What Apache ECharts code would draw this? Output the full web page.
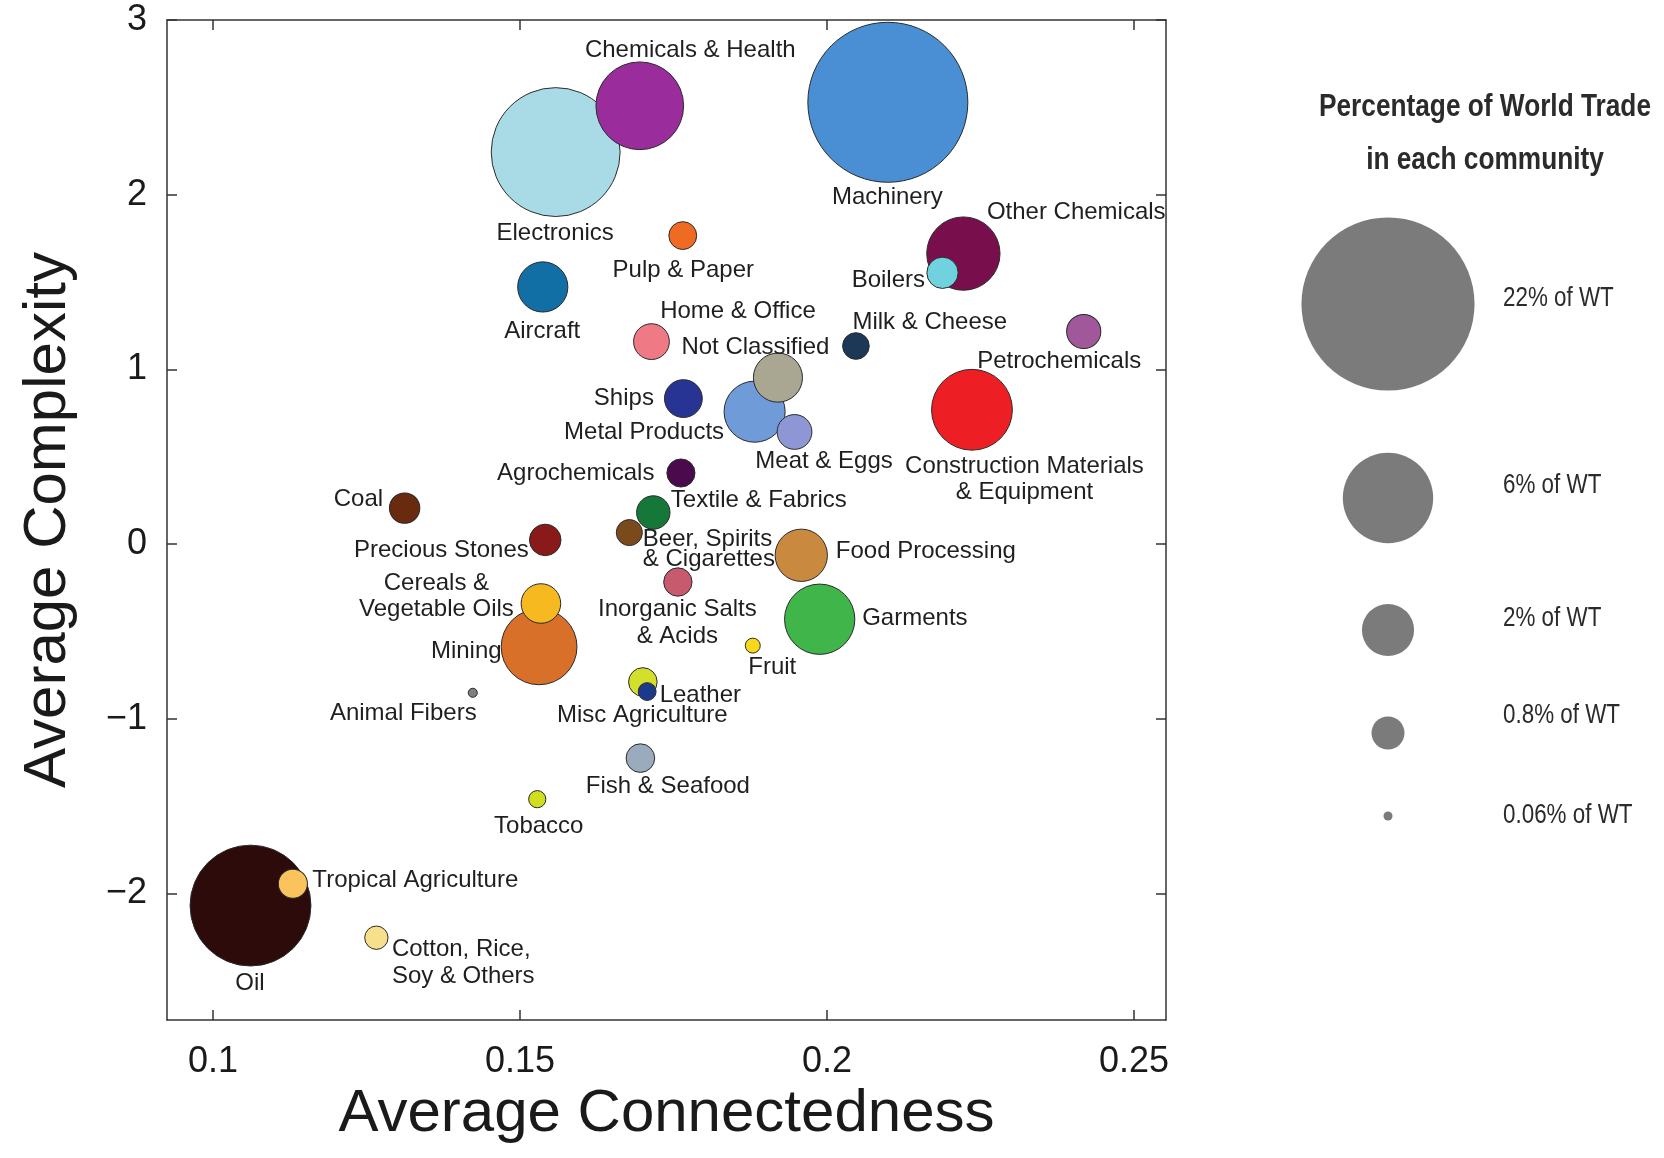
<!DOCTYPE html>
<html>
<head>
<meta charset="utf-8">
<script src="https://cdn.jsdelivr.net/npm/echarts@6/dist/echarts.min.js"></script>
<style>
html,body{margin:0;padding:0;background:#fff;}
#chart{width:1664px;height:1158px;}
</style>
</head>
<body>
<div id="chart"></div>
<script>
// ---------------- DATA ----------------
const communities = [
  'Machinery','Electronics','Chemicals & Health','Pulp & Paper','Aircraft',
  'Other Chemicals','Boilers','Milk & Cheese','Petrochemicals','Home & Office',
  'Metal Products','Not Classified','Meat & Eggs','Ships','Construction Materials & Equipment',
  'Agrochemicals','Textile & Fabrics','Coal','Precious Stones','Beer, Spirits & Cigarettes',
  'Food Processing','Inorganic Salts & Acids','Mining','Cereals & Vegetable Oils','Garments',
  'Fruit','Misc Agriculture','Leather','Animal Fibers','Fish & Seafood',
  'Tobacco','Oil','Tropical Agriculture','Cotton, Rice, Soy & Others'
];
const avgConnectedness = [
  0.2099,0.1558,0.1695,0.1765,0.1537,
  0.2222,0.2188,0.2047,0.2418,0.1714,
  0.1882,0.1920,0.1947,0.1766,0.2236,
  0.1762,0.1717,0.1312,0.1541,0.1678,
  0.1958,0.1757,0.1531,0.1534,0.1988,
  0.1879,0.1700,0.1707,0.1423,0.1696,
  0.1528,0.1061,0.1130,0.1266
];
const avgComplexity = [
  2.529,2.244,2.509,1.766,1.472,
  1.663,1.553,1.134,1.217,1.159,
  0.758,0.953,0.642,0.833,0.769,
  0.407,0.181,0.206,0.024,0.066,
  -0.064,-0.217,-0.588,-0.340,-0.430,
  -0.581,-0.789,-0.844,-0.851,-1.225,
  -1.460,-2.069,-1.944,-2.253
];
// percentage of world trade in each community
const tradeShare = [
  18.8,12.2,5.65,0.57,1.85,
  3.95,0.72,0.52,0.86,0.94,
  2.74,1.77,0.89,1.05,4.8,
  0.58,0.82,0.68,0.73,0.50,
  2.01,0.59,4.22,1.15,3.63,
  0.165,0.60,0.233,0.06,0.60,
  0.217,10.73,0.62,0.40
];
const xTicks = [0.1, 0.15, 0.2, 0.25];
const yTicks = [-2, -1, 0, 1, 2, 3];
const legendShares = [22, 6, 2, 0.8, 0.06];
const legendLabels = ['22% of WT', '6% of WT', '2% of WT', '0.8% of WT', '0.06% of WT'];

// ---------------- STYLE ----------------
const colors = {
  'Machinery':'#4a8fd3','Electronics':'#a9dbe7','Chemicals & Health':'#9a2c9c','Pulp & Paper':'#ef6a22',
  'Aircraft':'#116fa6','Other Chemicals':'#790e4c','Boilers':'#6fd2de','Milk & Cheese':'#1d3857',
  'Petrochemicals':'#a0589a','Home & Office':'#ef7a86','Metal Products':'#6f9bd8','Not Classified':'#a9a692',
  'Meat & Eggs':'#8f96d6','Ships':'#283494','Construction Materials & Equipment':'#ee1f24','Agrochemicals':'#4b0a4b',
  'Textile & Fabrics':'#167838','Coal':'#6a2a10','Precious Stones':'#8a1919','Beer, Spirits & Cigarettes':'#7a4a1c',
  'Food Processing':'#c98a3f','Inorganic Salts & Acids':'#c85a6d','Mining':'#d8702a','Cereals & Vegetable Oils':'#f6b91f',
  'Garments':'#40b54a','Fruit':'#f6d91a','Misc Agriculture':'#d3df2b','Leather':'#1b3a8b','Animal Fibers':'#7f7f7f',
  'Fish & Seafood':'#9aabbd','Tobacco':'#cfdf1f','Oil':'#2d0b0b','Tropical Agriculture':'#fbc35b',
  'Cotton, Rice, Soy & Others':'#f7e08b'
};
// label anchor offset from bubble centre [dx, dy, align, text, lineHeight]
const labelLayout = {
  'Machinery':[0,96,'center','Machinery'],
  'Electronics':[0,82,'center','Electronics'],
  'Chemicals & Health':[51,-55,'center','Chemicals & Health'],
  'Pulp & Paper':[1,35,'center','Pulp & Paper'],
  'Aircraft':[0,45,'center','Aircraft'],
  'Other Chemicals':[24,-41,'left','Other Chemicals'],
  'Boilers':[-17,8,'right','Boilers'],
  'Milk & Cheese':[-3,-23,'left','Milk & Cheese'],
  'Petrochemicals':[-24,30,'center','Petrochemicals'],
  'Home & Office':[87,-30,'center','Home & Office'],
  'Metal Products':[-30,21,'right','Metal Products'],
  'Not Classified':[-22,-30,'center','Not Classified'],
  'Meat & Eggs':[30,30,'center','Meat & Eggs'],
  'Ships':[-29,0,'right','Ships'],
  'Construction Materials & Equipment':[53,70,'center','Construction Materials\n& Equipment',26],
  'Agrochemicals':[-26,1,'right','Agrochemicals'],
  'Textile & Fabrics':[18,-12,'left','Textile & Fabrics'],
  'Coal':[-21,-8,'right','Coal'],
  'Precious Stones':[-16,11,'right','Precious Stones'],
  'Beer, Spirits & Cigarettes':[14,17,'left','Beer, Spirits\n& Cigarettes',20],
  'Food Processing':[35,-3,'left','Food Processing'],
  'Inorganic Salts & Acids':[0,41,'center','Inorganic Salts\n& Acids',27],
  'Mining':[-37,5,'right','Mining'],
  'Cereals & Vegetable Oils':[-104,-7,'center','Cereals &\nVegetable Oils',26],
  'Garments':[43,0,'left','Garments'],
  'Fruit':[-4,22,'left','Fruit'],
  'Misc Agriculture':[0,34,'center','Misc Agriculture'],
  'Leather':[13,4,'left','Leather'],
  'Animal Fibers':[-69,21,'center','Animal Fibers'],
  'Fish & Seafood':[28,29,'center','Fish & Seafood'],
  'Tobacco':[2,28,'center','Tobacco'],
  'Oil':[0,78,'center','Oil'],
  'Tropical Agriculture':[20,-3,'left','Tropical Agriculture'],
  'Cotton, Rice, Soy & Others':[16,26,'left','Cotton, Rice,\nSoy & Others',27]
};
const SIZE_K = 36.9; // px diameter per sqrt(% of world trade)
const sizeOf = s => Math.sqrt(s) * SIZE_K;
const FONT = "'Liberation Sans', Arial, Helvetica, sans-serif";
const legendLayout = { cx: 1388, labelX: 1503, cy: [304, 498, 630, 733, 816], ly: [298, 485, 618, 715, 815], titleX: 1485, titleY: [107, 160] };

// ---------------- BUILD ----------------
const points = communities.map((name, i) => {
  const L = labelLayout[name];
  const size = sizeOf(tradeShare[i]);
  const r = size / 2;
  return {
    name: name,
    value: [avgConnectedness[i], avgComplexity[i], tradeShare[i]],
    symbolSize: size,
    itemStyle: { color: colors[name] },
    label: {
      show: true, position: [r + L[0], r + L[1]], align: L[2], verticalAlign: 'middle',
      formatter: L[3], lineHeight: L[4] || 26
    }
  };
});

const minus = v => String(v).replace('-', '\u2212');
const axisLineStyle = { color: '#333', width: 1.5 };
function xAx(pos, labels) {
  return {
    type: 'value', min: 0.0925, max: 0.2552, position: pos,
    axisLine: { show: true, onZero: false, lineStyle: axisLineStyle },
    axisTick: { show: true, inside: true, length: 10, lineStyle: axisLineStyle, customValues: xTicks },
    axisLabel: { show: labels, customValues: xTicks, fontSize: 36, color: '#1a1a1a', fontFamily: FONT, margin: 24, formatter: v => String(v) },
    splitLine: { show: false }
  };
}
function yAx(pos, labels) {
  return {
    type: 'value', min: -2.724, max: 3, position: pos,
    axisLine: { show: true, onZero: false, lineStyle: axisLineStyle },
    axisTick: { show: true, inside: true, length: 10, lineStyle: axisLineStyle, customValues: yTicks },
    axisLabel: { show: labels, customValues: yTicks, fontSize: 36, color: '#1a1a1a', fontFamily: FONT, margin: 20, formatter: v => minus(v) },
    splitLine: { show: false }
  };
}
const xMain = xAx('bottom', true);
Object.assign(xMain, { name: 'Average Connectedness', nameLocation: 'middle', nameGap: 57,
  nameTextStyle: { fontSize: 60, color: '#1a1a1a', fontFamily: FONT } });
const yMain = yAx('left', true);
Object.assign(yMain, { name: 'Average Complexity', nameLocation: 'middle', nameGap: 89, nameRotate: 90,
  nameTextStyle: { fontSize: 60, color: '#1a1a1a', fontFamily: FONT } });

const legendGraphics = [];
const titleLines = ['Percentage of World Trade', 'in each community'];
titleLines.forEach((t, i) => {
  legendGraphics.push({ type: 'text', x: legendLayout.titleX, y: legendLayout.titleY[i], scaleX: 0.82,
    style: { text: t, font: "bold 32px " + FONT, fill: '#2b2b2b', textAlign: 'center', textVerticalAlign: 'middle' } });
});
legendShares.forEach((s, i) => {
  legendGraphics.push({ type: 'circle', shape: { cx: legendLayout.cx, cy: legendLayout.cy[i], r: sizeOf(s) / 2 },
    style: { fill: '#7b7b7b' } });
  legendGraphics.push({ type: 'text', x: legendLayout.labelX, y: legendLayout.ly[i], scaleX: 0.8,
    style: { text: legendLabels[i], font: "28px " + FONT, fill: '#2b2b2b', textAlign: 'left', textVerticalAlign: 'middle' } });
});

const chart = echarts.init(document.getElementById('chart'), null, { renderer: 'canvas' });
chart.setOption({
  animation: false,
  backgroundColor: '#ffffff',
  grid: { left: 167, right: 498, top: 20, bottom: 138, containLabel: false },
  xAxis: [xMain, xAx('top', false)],
  yAxis: [yMain, yAx('right', false)],
  series: [{
    type: 'scatter', xAxisIndex: 0, yAxisIndex: 0, silent: true,
    itemStyle: { borderColor: '#2a2a2a', borderWidth: 1, opacity: 1 },
    label: { fontSize: 24, color: '#1f1f1f', fontFamily: FONT },
    labelLayout: { hideOverlap: false },
    data: points
  }],
  graphic: legendGraphics
});
</script>
</body>
</html>
